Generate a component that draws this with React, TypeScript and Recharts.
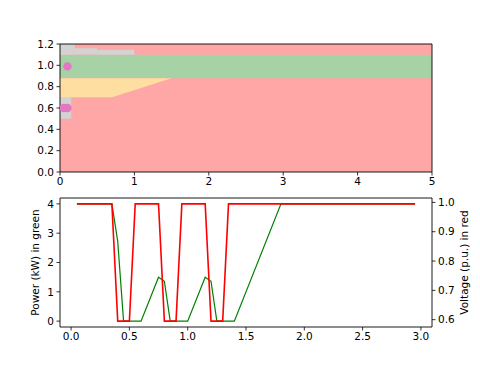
import React from 'react';
import {
  ComposedChart,
  Line,
  Area,
  Scatter,
  XAxis,
  YAxis,
  ReferenceArea,
  CartesianGrid,
} from 'recharts';

// ---------- top panel data ----------
const topXTicks = [0, 1, 2, 3, 4, 5];
const topYTicks = [0, 0.2, 0.4, 0.6, 0.8, 1.0, 1.2];
const normalBand = { x1: 0, x2: 5, y1: 0.88, y2: 1.1 };
const grayBands = [
  { x1: 0, x2: 0.2, y1: 1.1, y2: 1.2 },
  { x1: 0.2, x2: 0.5, y1: 1.1, y2: 1.16 },
  { x1: 0.5, x2: 1.0, y1: 1.1, y2: 1.145 },
  { x1: 0, x2: 0.15, y1: 0.5, y2: 0.7 },
];
const yellowX = [0, 0.7, 1.5];
const yellowLow = [0.7, 0.7, 0.88];
const yellowHigh = [0.88, 0.88, 0.88];
const pinkX = [0.05, 0.1, 0.1];
const pinkY = [0.6, 0.6, 0.99];

// ---------- bottom panel data ----------
const timeSteps = [0.05, 0.35, 0.4, 0.45, 0.5, 0.55, 0.6, 0.75, 0.8, 0.85, 0.9, 0.95, 1.0, 1.15, 1.2, 1.25, 1.3, 1.35, 1.4, 1.8, 2.95];
const powerKW = [4, 4, 2.72, 0, 0, 0, 0, 1.5, 1.36, 0, 0, 0, 0, 1.5, 1.36, 0, 0, 0, 0, 4, 4];
const voltagePU = [0.995, 0.995, 0.595, 0.595, 0.595, 0.995, 0.995, 0.995, 0.595, 0.595, 0.595, 0.995, 0.995, 0.995, 0.595, 0.595, 0.595, 0.995, 0.995, 0.995, 0.995];
const botXTicks = [0, 0.5, 1.0, 1.5, 2.0, 2.5, 3.0];
const powerTicks = [0, 1, 2, 3, 4];
const voltTicks = [0.6, 0.7, 0.8, 0.9, 1.0];

const yellowData = yellowX.map((x, i) => ({ x, band: [yellowLow[i], yellowHigh[i]] }));
const pinkData = pinkX.map((x, i) => ({ x, y: pinkY[i] }));
const lineData = timeSteps.map((t, i) => ({ t, p: powerKW[i], v: voltagePU[i] }));

const FONT = 'DejaVu Sans, sans-serif';
const tickStyle = { fontSize: 10.5, fill: '#000', fontFamily: FONT };
const tickLine = { stroke: '#000', strokeWidth: 0.8 };

const COLORS = {
  red: '#ffa6a6',
  green: '#a6d2a5',
  yellow: '#ffdea2',
  gray: '#d3d3d3',
  pink: '#e377c2',
};

const PinkDot = (props: any) => (
  <circle cx={props.cx} cy={props.cy} r={4.2} fill={COLORS.pink} />
);

export default function App() {
  return (
    <div style={{ position: 'absolute', left: 0, top: 0, width: 480, height: 367, background: '#fff' }}>
      <div style={{ position: 'absolute', left: 0, top: 0 }}>
        <ComposedChart
          width={480}
          height={202}
          data={yellowData}
          margin={{ top: 44, right: 48, bottom: 0, left: 20 }}
        >
          <CartesianGrid fill={COLORS.red} horizontal={false} vertical={false} stroke="none" />
          <XAxis
            type="number"
            dataKey="x"
            domain={[0, 5]}
            ticks={topXTicks}
            allowDataOverflow
            height={30}
            tick={tickStyle}
            tickLine={tickLine}
            axisLine={false}
            tickSize={3.5}
            tickMargin={2.5}
          />
          <YAxis
            type="number"
            domain={[0, 1.2]}
            ticks={topYTicks}
            allowDataOverflow
            width={40}
            tick={tickStyle}
            tickLine={tickLine}
            axisLine={false}
            tickSize={3.5}
            tickMargin={2.5}
            tickFormatter={(v: number) => v.toFixed(1)}
          />
          <ReferenceArea {...normalBand} fill={COLORS.green} fillOpacity={1} stroke="none" />
          {grayBands.map((b, i) => (
            <ReferenceArea key={i} {...b} fill={COLORS.gray} fillOpacity={1} stroke="none" />
          ))}
          <Area
            type="linear"
            dataKey="band"
            stroke="none"
            fill={COLORS.yellow}
            fillOpacity={1}
            isAnimationActive={false}
            activeDot={false}
            dot={false}
          />
          <Scatter data={pinkData} dataKey="y" shape={PinkDot} isAnimationActive={false} />
          <ReferenceArea x1={0} x2={5} y1={0} y2={1.2} fill="none" stroke="#000" strokeWidth={0.9} />
        </ComposedChart>
      </div>
      <div style={{ position: 'absolute', left: 0, top: 180 }}>
        <ComposedChart
          width={480}
          height={187}
          data={lineData}
          margin={{ top: 18, right: 8, bottom: 10, left: 15 }}
        >
          <XAxis
            type="number"
            dataKey="t"
            domain={[-0.095, 3.095]}
            ticks={botXTicks}
            allowDataOverflow
            height={30}
            tick={tickStyle}
            tickLine={tickLine}
            axisLine={false}
            tickSize={3.5}
            tickMargin={2.5}
            tickFormatter={(v: number) => v.toFixed(1)}
          />
          <YAxis
            yAxisId="left"
            type="number"
            domain={[-0.2, 4.2]}
            ticks={powerTicks}
            allowDataOverflow
            width={45}
            tick={tickStyle}
            tickLine={tickLine}
            axisLine={false}
            tickSize={3.5}
            tickMargin={2.5}
            label={{
              value: 'Power (kW) in green',
              angle: -90,
              position: 'insideLeft',
              offset: 20,
              style: { textAnchor: 'middle', fontSize: 10.5, fill: '#000', fontFamily: FONT },
            }}
          />
          <YAxis
            yAxisId="right"
            orientation="right"
            type="number"
            domain={[0.575, 1.015]}
            ticks={voltTicks}
            allowDataOverflow
            width={40}
            tick={tickStyle}
            tickLine={tickLine}
            axisLine={false}
            tickSize={3.5}
            tickMargin={2.5}
            tickFormatter={(v: number) => v.toFixed(1)}
            label={{
              value: 'Voltage (p.u.) in red',
              angle: -90,
              position: 'insideRight',
              offset: 8,
              style: { textAnchor: 'middle', fontSize: 10.5, fill: '#000', fontFamily: FONT },
            }}
          />
          <Line
            yAxisId="left"
            type="linear"
            dataKey="p"
            stroke="#008000"
            strokeWidth={1.2}
            dot={false}
            activeDot={false}
            isAnimationActive={false}
          />
          <Line
            yAxisId="right"
            type="linear"
            dataKey="v"
            stroke="#ff0000"
            strokeWidth={1.6}
            dot={false}
            activeDot={false}
            isAnimationActive={false}
          />
          <ReferenceArea
            yAxisId="left"
            x1={-0.095}
            x2={3.095}
            y1={-0.2}
            y2={4.2}
            fill="none"
            stroke="#000"
            strokeWidth={0.9}
          />
        </ComposedChart>
      </div>
    </div>
  );
}
